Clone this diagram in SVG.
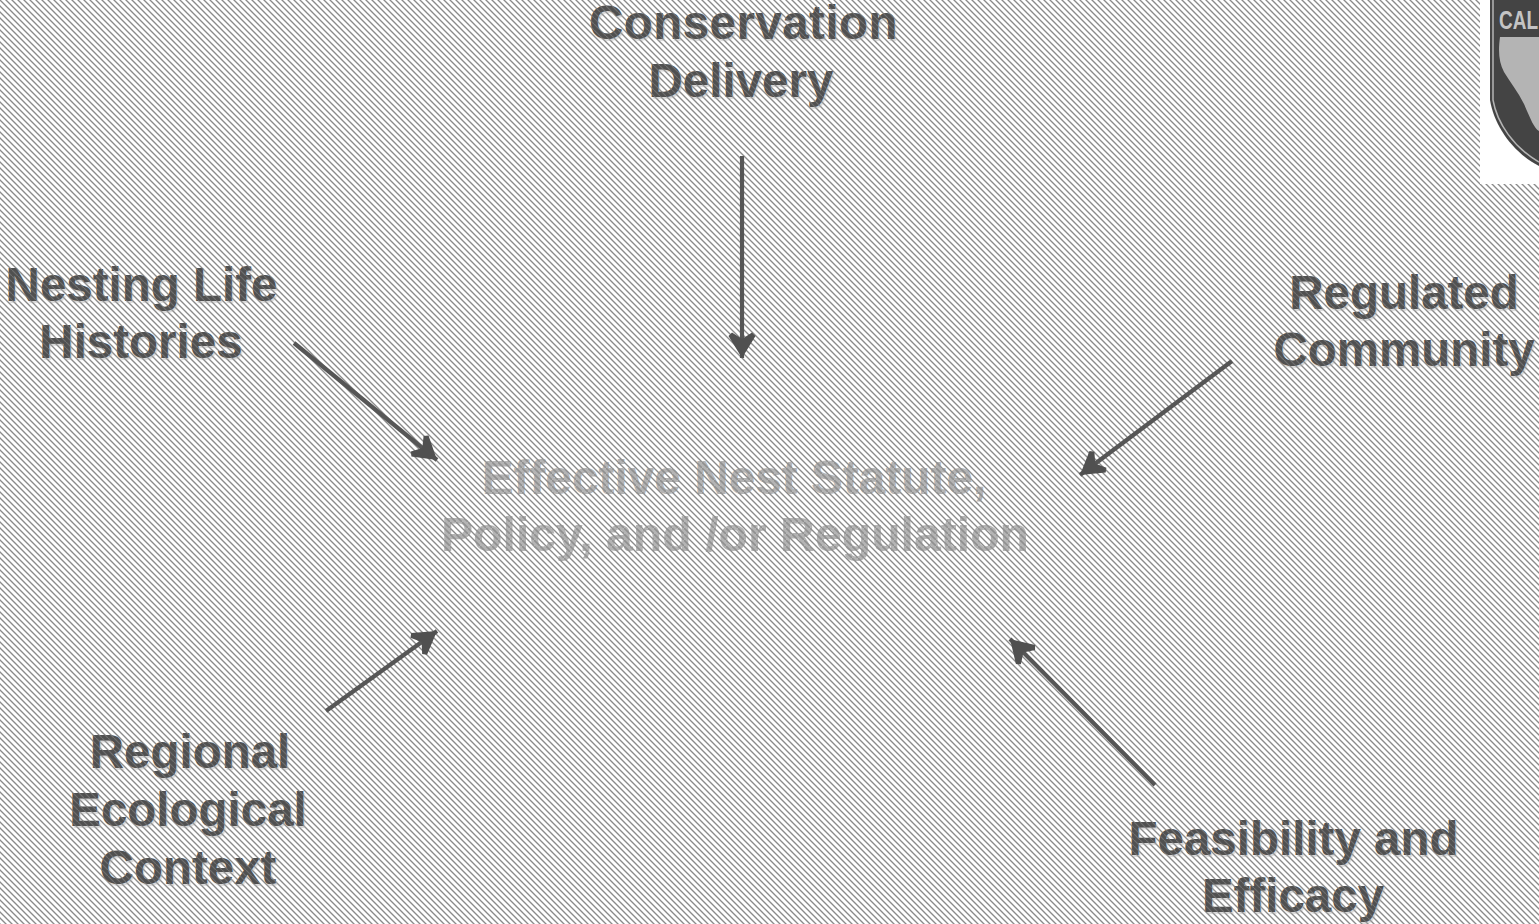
<svg xmlns="http://www.w3.org/2000/svg" width="1539" height="924" viewBox="0 0 1539 924">
<style>
.t{font-family:"Liberation Sans",Arial,sans-serif;font-weight:700;font-size:47.5px;text-anchor:middle;fill:url(#dk);text-shadow:1.5px 1.5px 1px rgba(170,170,170,.45)}
.c{fill:url(#lt);text-shadow:none}
.a{fill:none;stroke:#565656;stroke-width:4.2;marker-end:url(#h)}
</style>
<defs>
<pattern id="bg" patternUnits="userSpaceOnUse" width="6" height="6">
<rect width="6" height="6" fill="#fff"/>
<path d="M-3 -3L9 9M-3 3L3 9M3 -3L9 3" stroke="#8a8a8a" stroke-width="1.35" fill="none"/>
</pattern>
<pattern id="dk" patternUnits="userSpaceOnUse" width="6" height="6">
<rect width="6" height="6" fill="#505050"/>
<path d="M-3 -3L9 9" stroke="#6e6e6e" stroke-width="1.2" fill="none"/>
</pattern>
<pattern id="lt" patternUnits="userSpaceOnUse" width="6" height="6">
<rect width="6" height="6" fill="#b4b4b4"/>
<path d="M-3 -3L9 9" stroke="#909090" stroke-width="1.6" fill="none"/>
</pattern>
<marker id="h" markerUnits="userSpaceOnUse" markerWidth="34" markerHeight="34" refX="30" refY="17" orient="auto">
<path d="M30 17L8 3.500L4.500 7L11 17L4.500 27L8 30.500Z" fill="#505050"/>
</marker>
</defs>
<rect id="background" width="1539" height="924" fill="url(#bg)"/>
<g id="logo">
<rect x="1480" y="0" width="59" height="184" fill="#fff"/>
<path d="M1490 0V100C1494 125 1512 152 1539 166V0Z" fill="#444"/>
<path d="M1493 0V100C1497 123 1514 148 1539 162" fill="none" stroke="#b5b5b5" stroke-width="1.5"/>
<path d="M1500 37H1539V131C1534 128 1531 120 1524 104C1518 92 1510 82 1504 72C1499 62 1498 52 1500 37Z" fill="#b4b4b4"/>
<text x="1499" y="29" font-family="'Liberation Sans',Arial,sans-serif" font-weight="700" font-size="26" fill="#c4c4c4" textLength="39" lengthAdjust="spacingAndGlyphs">CAL</text>
</g>
<g id="connectors">
<path class="a" d="M742 156V358"/>
<path class="a" d="M294 343L437 460"/>
<path class="a" d="M1232 361L1080 475"/>
<path class="a" d="M326 711L437 631"/>
<path class="a" d="M1155 785L1010 639"/>
</g>
<g id="conservation-delivery"><text class="t" x="743.500" y="39" style="letter-spacing:.45px">Conservation</text><text class="t" x="741" y="97">Delivery</text></g>
<g id="nesting-life-histories"><text class="t" x="141.500" y="301">Nesting Life</text><text class="t" x="141" y="358">Histories</text></g>
<g id="regulated-community"><text class="t" x="1404" y="309">Regulated</text><text class="t" x="1404" y="366">Community</text></g>
<g id="effective-nest"><text class="t c" x="734" y="494" style="font-size:47.8px">Effective Nest Statute,</text><text class="t c" x="735" y="551" style="font-size:48.2px">Policy, and /or Regulation</text></g>
<g id="regional-ecological-context"><text class="t" x="190" y="768">Regional</text><text class="t" x="188" y="826">Ecological</text><text class="t" x="188" y="884">Context</text></g>
<g id="feasibility-efficacy"><text class="t" x="1293.500" y="855">Feasibility and</text><text class="t" x="1293" y="912">Efficacy</text></g>
</svg>
